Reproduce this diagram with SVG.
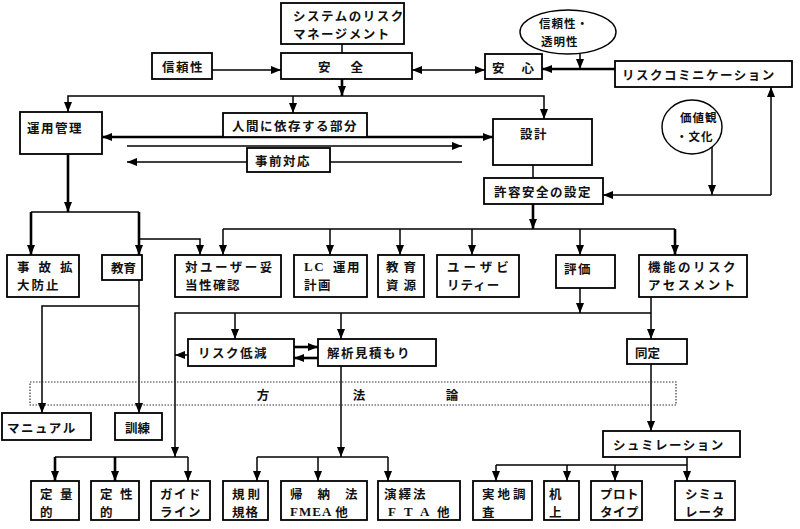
<svg xmlns="http://www.w3.org/2000/svg" width="800" height="529" viewBox="0 0 800 529">
<defs>
<style>
.box{fill:#fff;stroke:#000;stroke-width:1.8}
.ell{fill:#fff;stroke:#000;stroke-width:1.4}
.t{font-family:"Noto Sans CJK JP","Noto Sans CJK SC",sans-serif;font-size:12.5px;font-weight:bold;fill:#111;letter-spacing:1.5px;dominant-baseline:central}
.sm{font-size:11.5px;letter-spacing:1px}
.ser{font-family:"Liberation Serif",serif;font-weight:bold;font-size:13px}
.c{fill:none;stroke:#000;stroke-width:1.5}
.ck{fill:none;stroke:#000;stroke-width:2.6}
.a{marker-end:url(#ah)}
.s{marker-start:url(#ah)}
.dot{fill:none;stroke:#333;stroke-width:1.2;stroke-dasharray:1.5 1.5}
</style>
<marker id="ah" viewBox="0 0 10 8" refX="10" refY="4" markerWidth="10" markerHeight="8" markerUnits="userSpaceOnUse" orient="auto-start-reverse"><path d="M0,0 L10,4 L0,8 z" fill="#000"/></marker>
</defs>
<rect width="800" height="529" fill="#fff"/>

<g id="connectors">
<path class="c" d="M342,44 V53"/>
<path class="c a" d="M212,70 H281"/>
<path class="c a s" d="M412,70 H485"/>
<path class="c a" d="M580,53 V69"/>
<path class="ck a" d="M615,69 H542"/>
<path class="ck a" d="M342,79 V96"/>
<path class="c a" d="M342,96 H68 V112"/>
<path class="c a" d="M342,96 H544 V119"/>
<path class="c a" d="M293,96 V113"/>
<path class="ck a s" d="M102,137 H493"/>
<path class="c a" d="M127,146 H462"/>
<path class="c a" d="M462,162 H127"/>
<path class="c" d="M533,165 V178"/>
<path class="c a" d="M712,147 V195"/>
<path class="c a" d="M771,195 H603"/>
<path class="c a" d="M771,195 V87"/>
<path class="ck a" d="M533,204 V229"/>
<path class="c" d="M223,229 H675"/>
<path class="c a" d="M223,229 V255"/>
<path class="c a" d="M330,229 V255"/>
<path class="c a" d="M400,229 V255"/>
<path class="c a" d="M472,229 V255"/>
<path class="c a" d="M580,229 V255"/>
<path class="ck a" d="M675,229 V255"/>
<path class="ck a" d="M68,154 V212"/>
<path class="c" d="M31,212 H139"/>
<path class="ck a" d="M31,212 V255"/>
<path class="ck a" d="M139,212 V255"/>
<path class="c a" d="M139,239 H200 V255"/>
<path class="c a" d="M139,280 V413"/>
<path class="c a" d="M139,306 H42 V413"/>
<path class="c a" d="M580,288 V313"/>
<path class="c a" d="M651,297 V339"/>
<path class="c a" d="M651,313 H175 V457"/>
<path class="c a" d="M235,313 V339"/>
<path class="c a" d="M341,313 V339"/>
<path class="c a" d="M188,355 H175"/>
<path class="ck a" d="M294,347 H318"/>
<path class="ck a" d="M318,358 H294"/>
<path class="c a" d="M341,366 V457"/>
<path class="c" d="M257,457 H388"/>
<path class="c a" d="M257,457 V481"/>
<path class="c a" d="M318,457 V481"/>
<path class="c a" d="M388,457 V481"/>
<path class="c" d="M55,457 H188"/>
<path class="ck a" d="M55,457 V481"/>
<path class="ck a" d="M115,457 V481"/>
<path class="c a" d="M188,457 V481"/>
<path class="c a" d="M651,364 V431"/>
<path class="c" d="M687,457 V465 M496,465 H687"/>
<path class="c a" d="M496,465 V481"/>
<path class="c a" d="M567,465 V481"/>
<path class="c a" d="M615,465 V481"/>
<path class="c a" d="M687,465 V481"/>
</g>

<g id="n-method"><rect class="dot" x="30" y="382" width="646" height="23"/>
<text class="t" x="263" y="394" text-anchor="middle" style="letter-spacing:0">方</text>
<text class="t" x="359" y="394" text-anchor="middle" style="letter-spacing:0">法</text>
<text class="t" x="452" y="394" text-anchor="middle" style="letter-spacing:0">論</text></g>

<g id="n-srm"><rect class="box" x="281" y="3" width="123" height="41"/><text class="t" x="293" y="15">システムのリスク</text><text class="t" x="293" y="33">マネージメント</text></g>
<g id="n-anzen"><rect class="box" x="281" y="53" width="131" height="26"/><text class="t" x="318" y="66" style="letter-spacing:20px">安全</text></g>
<g id="n-shinrai"><rect class="box" x="152" y="53" width="60" height="26"/><text class="t" x="162" y="66">信頼性</text></g>
<g id="n-anshin"><rect class="box" x="485" y="54" width="57" height="25"/><text class="t" x="492" y="67" style="letter-spacing:17px">安心</text></g>
<g id="n-trust"><ellipse class="ell" cx="568" cy="32" rx="48" ry="22"/><text class="t sm" x="539" y="23">信頼性・</text><text class="t sm" x="541" y="41">透明性</text></g>
<g id="n-riskcomm"><rect class="box" x="615" y="61" width="177" height="26"/><text class="t" x="622" y="74">リスクコミニケーション</text></g>
<g id="n-values"><ellipse class="ell" cx="692" cy="127" rx="30" ry="27"/><text class="t sm" x="680" y="117">価値観</text><text class="t sm" x="676" y="136">・文化</text></g>
<g id="n-unyo"><rect class="box" x="20" y="112" width="82" height="42"/><text class="t" x="27" y="127">運用管理</text></g>
<g id="n-ningen"><rect class="box" x="223" y="113" width="144" height="24"/><text class="t" x="232" y="125">人間に依存する部分</text></g>
<g id="n-jizen"><rect class="box" x="247" y="148" width="83" height="24"/><text class="t" x="255" y="160">事前対応</text></g>
<g id="n-sekkei"><rect class="box" x="493" y="119" width="99" height="46"/><text class="t" x="520" y="133">設計</text></g>
<g id="n-kyoyou"><rect class="box" x="484" y="178" width="119" height="26"/><text class="t" x="494" y="191">許容安全の設定</text></g>
<g id="n-jiko"><rect class="box" x="7" y="255" width="72" height="42"/><text class="t" x="17" y="266" style="letter-spacing:9px">事故拡</text><text class="t" x="17" y="284" style="letter-spacing:2px">大防止</text></g>
<g id="n-kyoiku"><rect class="box" x="102" y="255" width="40" height="25"/><text class="t" x="111" y="267" style="letter-spacing:0">教育</text></g>
<g id="n-taiuser"><rect class="box" x="175" y="255" width="106" height="42"/><text class="t" x="185" y="266" style="letter-spacing:2.5px">対ユーザー妥</text><text class="t" x="185" y="284">当性確認</text></g>
<g id="n-lc"><rect class="box" x="294" y="255" width="73" height="42"/><text class="t" x="304" y="266"><tspan class="ser">LC</tspan><tspan dx="8">運用</tspan></text><text class="t" x="304" y="284">計画</text></g>
<g id="n-shigen"><rect class="box" x="378" y="255" width="46" height="42"/><text class="t" x="386" y="266" style="letter-spacing:5px">教育</text><text class="t" x="386" y="284" style="letter-spacing:5px">資源</text></g>
<g id="n-usability"><rect class="box" x="437" y="255" width="82" height="42"/><text class="t" x="447" y="266" style="letter-spacing:4px">ユーザビ</text><text class="t" x="447" y="284" style="letter-spacing:1px">リティー</text></g>
<g id="n-hyoka"><rect class="box" x="556" y="255" width="59" height="33"/><text class="t" x="564" y="268">評価</text></g>
<g id="n-kinou"><rect class="box" x="639" y="255" width="108" height="42"/><text class="t" x="648" y="266" style="letter-spacing:2.5px">機能のリスク</text><text class="t" x="648" y="284" style="letter-spacing:2.5px">アセスメント</text></g>
<g id="n-teigen"><rect class="box" x="188" y="339" width="106" height="27"/><text class="t" x="198" y="352">リスク低減</text></g>
<g id="n-kaiseki"><rect class="box" x="318" y="339" width="118" height="27"/><text class="t" x="327" y="352">解析見積もり</text></g>
<g id="n-doutei"><rect class="box" x="627" y="339" width="60" height="25"/><text class="t" x="635" y="352" style="letter-spacing:0">同定</text></g>
<g id="n-manual"><rect class="box" x="2" y="413" width="89" height="27"/><text class="t" x="7" y="427">マニュアル</text></g>
<g id="n-kunren"><rect class="box" x="115" y="413" width="47" height="27"/><text class="t" x="125" y="427" style="letter-spacing:0">訓練</text></g>
<g id="n-simu"><rect class="box" x="603" y="431" width="137" height="26"/><text class="t" x="613" y="444">シュミレーション</text></g>
<g id="n-teiryo"><rect class="box" x="31" y="481" width="48" height="39"/><text class="t" x="40" y="493" style="letter-spacing:7.5px">定量</text><text class="t" x="40" y="511">的</text></g>
<g id="n-teisei"><rect class="box" x="91" y="481" width="48" height="39"/><text class="t" x="100" y="493" style="letter-spacing:7.5px">定性</text><text class="t" x="100" y="511">的</text></g>
<g id="n-guide"><rect class="box" x="151" y="481" width="59" height="39"/><text class="t" x="160" y="493">ガイド</text><text class="t" x="160" y="511">ライン</text></g>
<g id="n-kisoku"><rect class="box" x="223" y="481" width="45" height="39"/><text class="t" x="232" y="493" style="letter-spacing:3px">規則</text><text class="t" x="232" y="511" style="letter-spacing:1px">規格</text></g>
<g id="n-kino"><rect class="box" x="281" y="481" width="86" height="39"/><text class="t" x="290" y="493" style="letter-spacing:15px">帰納法</text><text class="t" x="290" y="511"><tspan class="ser" style="letter-spacing:1px">FMEA</tspan><tspan dx="3">他</tspan></text></g>
<g id="n-eneki"><rect class="box" x="378" y="481" width="82" height="39"/><text class="t" x="384" y="493" style="letter-spacing:2px">演繹法</text><text class="t" y="511"><tspan class="ser" x="388 404 420">FTA</tspan><tspan x="437">他</tspan></text></g>
<g id="n-jichi"><rect class="box" x="473" y="481" width="59" height="39"/><text class="t" x="482" y="493" style="letter-spacing:3px">実地調</text><text class="t" x="482" y="511">査</text></g>
<g id="n-kijo"><rect class="box" x="544" y="481" width="35" height="39"/><text class="t" x="549" y="493">机</text><text class="t" x="549" y="511">上</text></g>
<g id="n-proto"><rect class="box" x="591" y="481" width="51" height="39"/><text class="t" x="600" y="493" style="letter-spacing:0.5px">プロト</text><text class="t" x="600" y="511" style="letter-spacing:0.5px">タイプ</text></g>
<g id="n-simulator"><rect class="box" x="675" y="481" width="60" height="39"/><text class="t" x="685" y="493" style="letter-spacing:1px">シミュ</text><text class="t" x="685" y="511" style="letter-spacing:1px">レータ</text></g>
</svg>
